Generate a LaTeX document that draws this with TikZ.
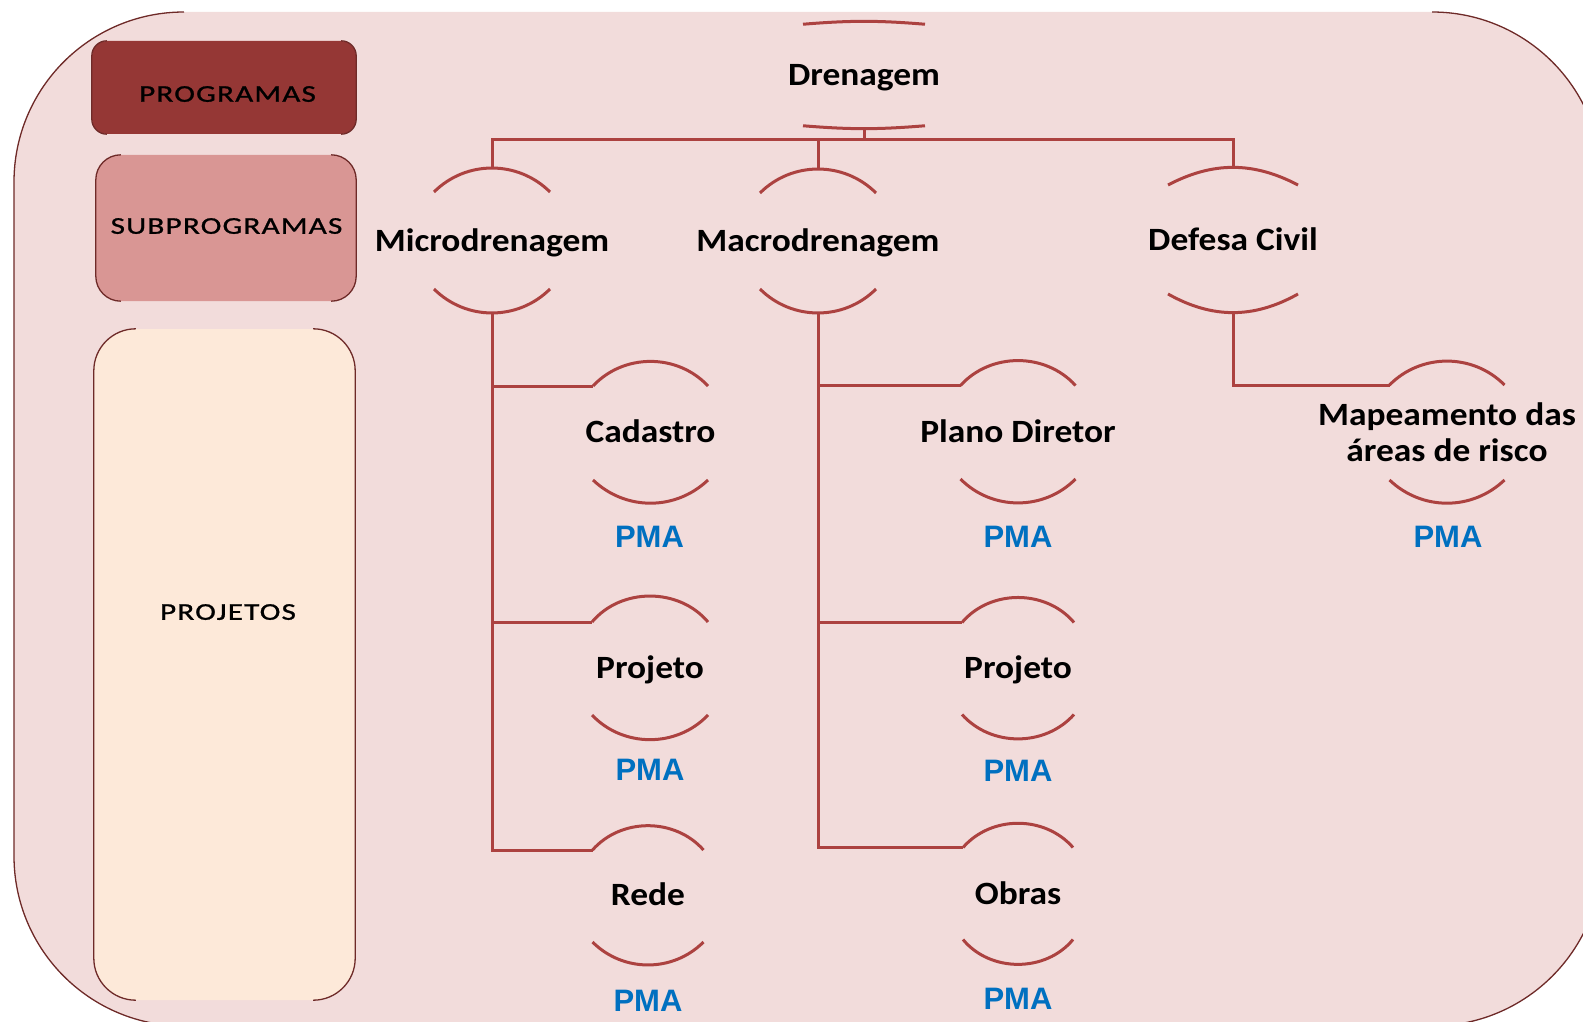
\documentclass[tikz,border=0pt]{standalone}
\usepackage{fontspec}
\setmainfont{Carlito}
\newfontfamily\lblfont[FakeStretch=1.09]{Carlito}
\newfontfamily\capfont[FakeStretch=1.3,LetterSpace=5,FakeBold=1]{Carlito}
\newfontfamily\pmafont{Liberation Sans}
\usetikzlibrary{calc}

\definecolor{bgpink}{HTML}{F2DCDB}
\definecolor{progfill}{HTML}{953735}
\definecolor{subfill}{HTML}{D99694}
\definecolor{projfill}{HTML}{FDE9D9}
\definecolor{rimcol}{RGB}{110,42,40}
\definecolor{treeline}{RGB}{172,66,64}
\definecolor{pmablue}{HTML}{0070C0}

\tikzset{
  panel/.style={fill=#1, draw=none, inner sep=0pt},
  panelrim/.style={draw=rimcol, line width=1.3pt},
  caption/.style={font=\capfont\fontsize{24}{28}\selectfont, inner sep=0pt,
                  text height=15.5pt, text depth=0pt},
  unit/.style={font=\lblfont\bfseries\fontsize{32.5}{36}\selectfont, inner sep=0pt,
               text height=21pt, text depth=0pt},
  unitml/.style={font=\lblfont\bfseries\fontsize{32.5}{36}\selectfont, inner sep=0pt,
                 align=center},
  arcline/.style={draw=treeline, line width=3pt},
  link/.style={draw=treeline, line width=3pt},
  pma/.style={font=\pmafont\bfseries\fontsize{31}{35}\selectfont, text=pmablue,
              inner sep=0pt, text height=22pt, text depth=0pt},
}

% Two facing circular arcs around a node: #1 node, #2 half width,
% #3 half height, #4 sag of the upper arc, #5 sag of the lower arc
\newcommand\arcpair[5]{%
  \pgfmathsetmacro\arcangT{2*atan(#4/#2)}%
  \pgfmathsetmacro\arcangB{2*atan(#5/#2)}%
  \coordinate (#1-n) at ($(#1.center)+(0,-#3)$);
  \coordinate (#1-s) at ($(#1.center)+(0,#3)$);
  \coordinate (#1-nw) at ($(#1-n)+(-#2,#4)$);
  \coordinate (#1-ne) at ($(#1-n)+(#2,#4)$);
  \coordinate (#1-sw) at ($(#1-s)+(-#2,-#5)$);
  \coordinate (#1-se) at ($(#1-s)+(#2,-#5)$);
  \draw[arcline] (#1-nw) to[bend left=\arcangT] (#1-ne);
  \draw[arcline] (#1-sw) to[bend right=\arcangB] (#1-se);
}

% Outline of a rounded panel on its left and right sides only
\newcommand\siderim[2]{%
  \draw[panelrim, rounded corners=#2]
    ($(#1.north west)+(#2,0)$) -- (#1.north west) -- (#1.south west) -- ($(#1.south west)+(#2,0)$);
  \draw[panelrim, rounded corners=#2]
    ($(#1.north east)+(-#2,0)$) -- (#1.north east) -- (#1.south east) -- ($(#1.south east)+(-#2,0)$);
}

\begin{document}
\begin{tikzpicture}[x=1pt, y=-1pt]
\useasboundingbox (0,0) rectangle (1583,1022);
\begin{scope}
\clip (0,0) rectangle (1583,1022);

% background panel
\fill[bgpink, rounded corners=170pt] (14,12) rectangle (1602,1026);
\draw[panelrim, rounded corners=170pt] (184,12) -- (14,12) -- (14,1026) -- (184,1026);
\draw[panelrim, rounded corners=170pt] (1432,12) -- (1602,12) -- (1602,1026) -- (1432,1026);

% legend panels
\node[panel=progfill, rounded corners=15pt, minimum width=264pt, minimum height=93pt]
  (progbox) at (224,87.5) {};
\siderim{progbox}{15pt}
\node[panel=subfill, rounded corners=25pt, minimum width=260pt, minimum height=146pt]
  (subbox) at (226,228) {};
\siderim{subbox}{25pt}
\node[panel=projfill, rounded corners=42pt, minimum width=261pt, minimum height=671pt]
  (projbox) at (224.5,664.5) {};
\siderim{projbox}{42pt}

\node[caption] (proglbl) at (227.5,94) {PROGRAMAS};
\node[caption] (sublbl) at (226.5,226) {SUBPROGRAMAS};
\node[caption] (projlbl) at (228,612) {PROJETOS};

% program, subprograms and projects
\node[unit] (dren) at (864,75) {Drenagem};
\node[unit] (micro) at (492,240.5) {Microdrenagem};
\node[unit] (macro) at (818,241) {Macrodrenagem};
\node[unit] (defesa) at (1233,240) {Defesa Civil};
\node[unit] (cad) at (650.5,432) {Cadastro};
\node[unit] (projA) at (650,667.5) {Projeto};
\node[unit] (rede) at (648,895) {Rede};
\node[unit] (plano) at (1018,431.5) {Plano Diretor};
\node[unit] (projB) at (1018,668) {Projeto};
\node[unit] (obras) at (1018,894) {Obras};
\node[unitml] (mapa) at (1447,432) {Mapeamento das\\áreas de risco};

\arcpair{dren}{61}{53.25}{2.5}{2.5}
\arcpair{micro}{58}{72.5}{24}{24}
\arcpair{macro}{58}{72}{24}{24}
\arcpair{defesa}{65}{71}{16}{17}
\arcpair{cad}{57.5}{71}{25}{23}
\arcpair{projA}{58}{72.5}{27}{25}
\arcpair{rede}{55.5}{70}{25}{23}
\arcpair{plano}{57.5}{71.5}{25.5}{24}
\arcpair{projB}{56}{71.5}{26}{25}
\arcpair{obras}{55}{71.5}{25}{26}
\arcpair{mapa}{57.5}{71}{24}{23}

% connectors
\coordinate (bus) at (0,140);
\draw[link] (dren-s) -- (dren-s |- bus);
\draw[link] (micro-n) |- (bus -| defesa-n) -- (defesa-n);
\draw[link] (macro-n) -- (macro-n |- bus);
\draw[link] (micro-s) |- (cad-nw);
\draw[link] (micro-s) |- (projA-nw);
\draw[link] (micro-s) |- (rede-nw);
\draw[link] (macro-s) |- (plano-nw);
\draw[link] (macro-s) |- (projB-nw);
\draw[link] (macro-s) |- (obras-nw);
\draw[link] (defesa-s) |- (mapa-nw);

% PMA tags
\node[pma] (pmaA) at (649.5,536) {PMA};
\node[pma] (pmaB) at (650,769) {PMA};
\node[pma] (pmaC) at (648,1000) {PMA};
\node[pma] (pmaD) at (1018,536.5) {PMA};
\node[pma] (pmaE) at (1018,770) {PMA};
\node[pma] (pmaF) at (1018,998) {PMA};
\node[pma] (pmaG) at (1448,536) {PMA};
\end{scope}
\end{tikzpicture}
\end{document}
